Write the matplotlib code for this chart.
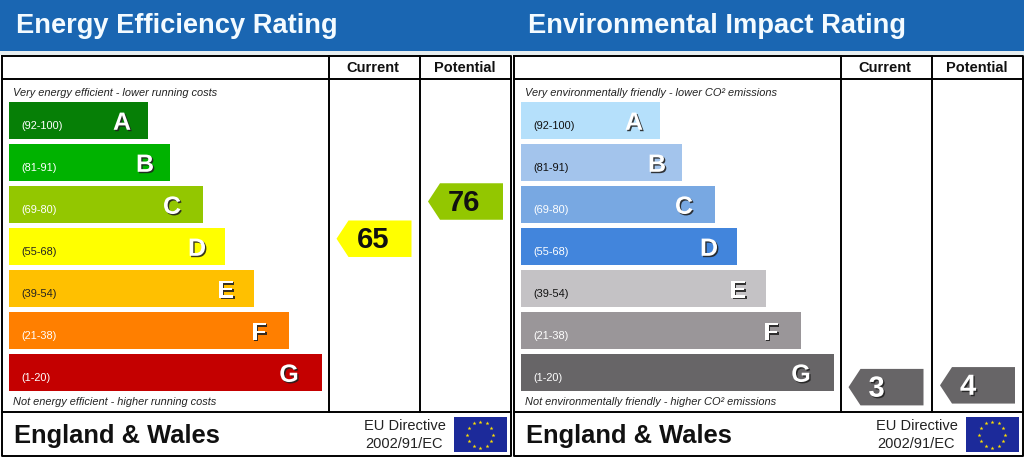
import numpy as np
import matplotlib
matplotlib.use('Agg')
import matplotlib.pyplot as plt
import matplotlib.patheffects as pe
from matplotlib.patches import Polygon, Rectangle

plt.rcParams['font.family'] = ['Liberation Sans', 'DejaVu Sans']

# chart data
letters = ['A', 'B', 'C', 'D', 'E', 'F', 'G']
range_low = [92, 81, 69, 55, 39, 21, 1]
range_high = [100, 91, 80, 68, 54, 38, 20]
bar_lengths = [139, 161, 194, 216, 245, 280, 313]

energy_title = 'Energy Efficiency Rating'
energy_top = 'Very energy efficient - lower running costs'
energy_bottom = 'Not energy efficient - higher running costs'
energy_colors = ['#067f06', '#00b200', '#93c700', '#ffff00', '#ffc000', '#ff7f00', '#c40000']
energy_label_colors = ['white', 'white', 'white', '#222222', '#222222', 'white', 'white']
energy_current = 65
energy_potential = 76

env_title = 'Environmental Impact Rating'
env_top = 'Very environmentally friendly - lower CO² emissions'
env_bottom = 'Not environmentally friendly - higher CO² emissions'
env_colors = ['#b5e0fb', '#a3c4ec', '#78a8e2', '#4285dc', '#c4c2c5', '#9a9699', '#676567']
env_label_colors = ['#111111', '#111111', 'white', 'white', '#111111', 'white', 'white']
env_current = 3
env_potential = 4

# layout, in pixels of one 512 wide panel
BAR_LEFT = 9
BAR_TOP = 102.3
BAR_PITCH = 42
BAR_HEIGHT = 36.5
LETTER_INSET = [26, 25, 31, 28, 28, 30, 33]
COL_CURRENT = (328.5, 419.5)
COL_RIGHT = 511


def band_of(rating):
    for i in range(len(letters)):
        if range_low[i] <= rating <= range_high[i]:
            return i
    return len(letters) - 1


def draw_arrow(ax, rating, right, colors, text_color):
    # the arrow sits inside its band according to the rating
    i = band_of(rating)
    frac = (range_high[i] + 1 - rating) / (range_high[i] + 1 - range_low[i])
    y = BAR_TOP + i * BAR_PITCH + frac * BAR_HEIGHT
    half = BAR_HEIGHT / 2
    width = 75
    body = right - width + 12
    pts = [(right, y - half), (body, y - half), (right - width, y), (body, y + half), (right, y + half)]
    ax.add_patch(Polygon(pts, closed=True, facecolor=colors[i], edgecolor='none'))
    t = ax.text(right - 55, y + 1.5, str(rating), ha='left', va='center',
                fontsize=21, fontweight='bold', color=text_color)
    if text_color == 'white':
        t.set_path_effects([pe.withSimplePatchShadow(offset=(1, -1), shadow_rgbFace='#222222', alpha=0.9)])


def draw_panel(ax, title, top_text, bottom_text, colors, label_colors, current, potential, number_color):
    ax.set_xlim(0, 512)
    ax.set_ylim(457, 0)
    ax.axis('off')

    ax.add_patch(Rectangle((0, 0), 512, 51, facecolor='#1a66b2', edgecolor='none'))
    ax.add_patch(Rectangle((0, 51), 512, 4, facecolor='#e6eef0', edgecolor='none'))
    ax.text(15.7, 26, title, ha='left', va='center', fontsize=19.65, fontweight='bold', color='#f4fbff')

    # frame
    ax.plot([1.5, COL_RIGHT, COL_RIGHT, 1.5, 1.5], [56, 56, 455.5, 455.5, 56], color='black', lw=1.4)
    ax.plot([1.5, COL_RIGHT], [79, 79], color='black', lw=1.4)
    ax.plot([1.5, COL_RIGHT], [412, 412], color='black', lw=1.4)
    for x in COL_CURRENT:
        ax.plot([x, x], [56, 412], color='black', lw=1.4)
    ax.text(373, 67.5, 'Current', ha='center', va='center', fontsize=10.5, fontweight='bold', color='#111111')
    ax.text(465, 67.5, 'Potential', ha='center', va='center', fontsize=10.5, fontweight='bold', color='#111111')

    ax.text(13, 92.5, top_text, ha='left', va='center', fontsize=7.9, style='italic', color='#222222')
    ax.text(13, 402, bottom_text, ha='left', va='center', fontsize=7.9, style='italic', color='#222222')

    # rating bands
    y = BAR_TOP + np.arange(len(letters)) * BAR_PITCH
    ax.barh(y, bar_lengths, height=BAR_HEIGHT, left=BAR_LEFT, align='edge', color=colors)
    for i, letter in enumerate(letters):
        label = f'({range_low[i]}-{range_high[i]})'
        ax.text(21.7, y[i] + 23.5, label, ha='left', va='center', fontsize=7.9, color=label_colors[i])
        t = ax.text(BAR_LEFT + bar_lengths[i] - LETTER_INSET[i], y[i] + 20.5, letter, ha='center', va='center',
                    fontsize=18, fontweight='bold', color='white')
        t.set_path_effects([pe.withSimplePatchShadow(offset=(1, -1), shadow_rgbFace='#222222', alpha=0.9)])

    draw_arrow(ax, current, COL_CURRENT[1] - 8, colors, number_color)
    draw_arrow(ax, potential, COL_RIGHT - 8, colors, number_color)

    # footer
    ax.text(14, 436, 'England & Wales', ha='left', va='center', fontsize=18.4, fontweight='bold', color='#111111')
    ax.text(404.5, 426, 'EU Directive', ha='center', va='center', fontsize=10.5, color='#222222')
    ax.text(404.5, 444, '2002/91/EC', ha='center', va='center', fontsize=10.5, color='#222222')
    ax.add_patch(Rectangle((453.5, 417), 53.5, 35, facecolor='#1c2a9a', edgecolor='none'))
    angles = np.deg2rad(np.arange(0, 360, 30))
    ax.scatter(480 + 13 * np.cos(angles), 434.5 + 13 * np.sin(angles), marker='*', s=9,
               color='#ffe000', linewidths=0, zorder=3)


fig = plt.figure(figsize=(10.24, 4.57), dpi=100, facecolor='white')
ax_energy = fig.add_axes([0, 0, 0.5, 1])
ax_env = fig.add_axes([0.5, 0, 0.5, 1])

draw_panel(ax_energy, energy_title, energy_top, energy_bottom, energy_colors, energy_label_colors,
           energy_current, energy_potential, '#111111')
draw_panel(ax_env, env_title, env_top, env_bottom, env_colors, env_label_colors,
           env_current, env_potential, 'white')

fig.savefig('out.png', dpi=100)
